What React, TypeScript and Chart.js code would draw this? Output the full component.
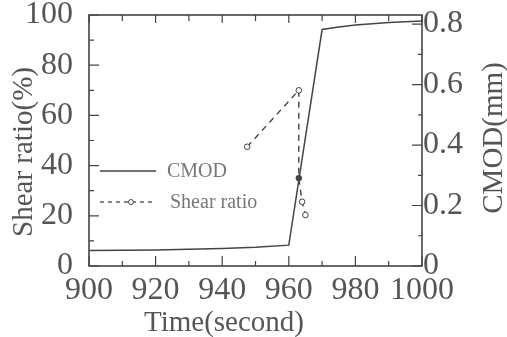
import React, { useEffect, useRef } from "react";
import { Chart, registerables } from "chart.js";

Chart.register(...registerables);

const cmodTime = [900, 920, 940, 950, 960, 970, 975, 980, 990, 1000];
const cmodValue = [0.051, 0.053, 0.058, 0.062, 0.069, 0.782, 0.79, 0.797, 0.805, 0.81];

const shearTime = [947.5, 963, 963, 964, 965];
const shearValue = [47.5, 70, 35, 25.6, 20.3];

const xTicks = [900, 920, 940, 960, 980, 1000];
const leftTicks = [0, 20, 40, 60, 80, 100];
const rightTicks = [0, 0.2, 0.4, 0.6, 0.8];

const SERIF = "'Liberation Serif', 'DejaVu Serif', serif";
const INK = "#444";
const TEXT = "#555";

const framePlugin = {
  id: "frame",
  afterDraw(chart: any) {
    const { ctx, chartArea: a, scales } = chart;
    const x = scales.x, y = scales.y, y1 = scales.y1;
    ctx.save();
    ctx.strokeStyle = INK;
    ctx.lineWidth = 1.6;
    ctx.strokeRect(a.left, a.top, a.right - a.left, a.bottom - a.top);
    ctx.lineWidth = 1.2;
    ctx.beginPath();
    for (let v = 900; v <= 1000; v += 10) {
      const px = x.getPixelForValue(v);
      const major = v % 20 === 0;
      const lb = major ? 10 : 5;
      const lt = major ? 8 : 6;
      ctx.moveTo(px, a.bottom);
      ctx.lineTo(px, a.bottom - lb);
      ctx.moveTo(px, a.top);
      ctx.lineTo(px, a.top + lt);
    }
    for (let v = 0; v <= 100; v += 10) {
      const py = y.getPixelForValue(v);
      const len = v % 20 === 0 ? 10 : 5;
      ctx.moveTo(a.left, py);
      ctx.lineTo(a.left + len, py);
    }
    for (let v = 0; v <= 0.8001; v += 0.1) {
      const py = y1.getPixelForValue(v);
      const major = Math.round(v * 10) % 2 === 0;
      const len = major ? 10 : 4;
      ctx.moveTo(a.right, py);
      ctx.lineTo(a.right - len, py);
    }
    ctx.stroke();

    ctx.fillStyle = TEXT;
    ctx.font = `29px ${SERIF}`;
    ctx.textAlign = "center";
    ctx.textBaseline = "alphabetic";
    ctx.fillText("Time(second)", 224, 331);
    ctx.save();
    ctx.translate(32, 152);
    ctx.rotate(-Math.PI / 2);
    ctx.fillText("Shear ratio(%)", 0, 0);
    ctx.restore();
    ctx.save();
    ctx.translate(502, 138);
    ctx.rotate(-Math.PI / 2);
    ctx.fillText("CMOD(mm)", 0, 0);
    ctx.restore();

    ctx.strokeStyle = INK;
    ctx.lineWidth = 1.5;
    ctx.beginPath();
    ctx.moveTo(100, 171);
    ctx.lineTo(156, 171);
    ctx.stroke();
    ctx.setLineDash([4, 4]);
    ctx.lineWidth = 1.3;
    ctx.beginPath();
    ctx.moveTo(100, 202);
    ctx.lineTo(153, 202);
    ctx.stroke();
    ctx.setLineDash([]);
    ctx.fillStyle = "#fff";
    ctx.beginPath();
    ctx.arc(131, 202, 2.5, 0, Math.PI * 2);
    ctx.fill();
    ctx.lineWidth = 1;
    ctx.stroke();
    ctx.fillStyle = "#777";
    ctx.font = `20px ${SERIF}`;
    ctx.textAlign = "left";
    ctx.textBaseline = "middle";
    ctx.fillText("CMOD", 167, 172);
    ctx.fillText("Shear ratio", 170, 203);
    ctx.restore();
  },
};

export default function App() {
  const ref = useRef<HTMLCanvasElement | null>(null);
  useEffect(() => {
    document.body.style.margin = "0";
    const canvas = ref.current!;
    const chart = new Chart(canvas, {
      type: "line",
      data: {
        datasets: [
          {
            label: "CMOD",
            data: cmodTime.map((t, i) => ({ x: t, y: cmodValue[i] })),
            yAxisID: "y1",
            borderColor: INK,
            borderWidth: 1.5,
            pointRadius: 0,
            tension: 0,
          },
          {
            label: "Shear ratio",
            data: shearTime.map((t, i) => ({ x: t, y: shearValue[i] })),
            yAxisID: "y",
            borderColor: INK,
            borderWidth: 1.4,
            borderDash: [6, 5],
            pointRadius: 2.8,
            pointBorderWidth: 1,
            pointBorderColor: INK,
            pointBackgroundColor: ["#fff", "#fff", INK, "#fff", "#fff"],
            tension: 0,
          },
        ],
      },
      plugins: [framePlugin],
      options: {
        animation: false,
        responsive: false,
        events: [],
        layout: { padding: { top: 15, left: 0, right: 0, bottom: 0 } },
        plugins: { legend: { display: false }, tooltip: { enabled: false } },
        scales: {
          x: {
            type: "linear",
            position: "bottom",
            min: 900,
            max: 1000,
            afterBuildTicks: (s: any) => {
              s.ticks = xTicks.map((v) => ({ value: v }));
            },
            afterFit: (s: any) => {
              s.height = 71;
              s.paddingLeft = 0;
              s.paddingRight = 0;
            },
            grid: { display: false, drawTicks: false },
            border: { display: false },
            ticks: {
              color: TEXT,
              padding: 5,
              maxRotation: 0,
              autoSkip: false,
              callback: (v: any) => String(v),
              font: { family: SERIF, size: 32, lineHeight: 1.2 },
            },
          },
          y: {
            type: "linear",
            position: "left",
            min: 0,
            max: 100,
            afterBuildTicks: (s: any) => {
              s.ticks = leftTicks.map((v) => ({ value: v }));
            },
            afterFit: (s: any) => {
              s.width = 89;
              s.paddingTop = 0;
              s.paddingBottom = 0;
            },
            grid: { display: false, drawTicks: false },
            border: { display: false },
            ticks: {
              color: TEXT,
              padding: 16,
              autoSkip: false,
              callback: (v: any) => String(v),
              font: { family: SERIF, size: 32, lineHeight: 1.2 },
            },
          },
          y1: {
            type: "linear",
            position: "right",
            min: 0,
            max: 0.83,
            afterBuildTicks: (s: any) => {
              s.ticks = rightTicks.map((v) => ({ value: v }));
            },
            afterFit: (s: any) => {
              s.width = 85;
              s.paddingTop = 0;
              s.paddingBottom = 0;
            },
            grid: { display: false, drawTicks: false },
            border: { display: false },
            ticks: {
              color: TEXT,
              padding: 1,
              autoSkip: false,
              callback: (v: any) => (v === 0 ? "0" : Number(v).toFixed(1)),
              font: { family: SERIF, size: 32, lineHeight: 1.2 },
            },
          },
        },
      },
    });
    return () => chart.destroy();
  }, []);
  return (
    <div style={{ position: "fixed", left: 0, top: 0, width: 507, height: 337, background: "#fff" }}>
      <canvas ref={ref} width={507} height={337} style={{ width: 507, height: 337 }} />
    </div>
  );
}
